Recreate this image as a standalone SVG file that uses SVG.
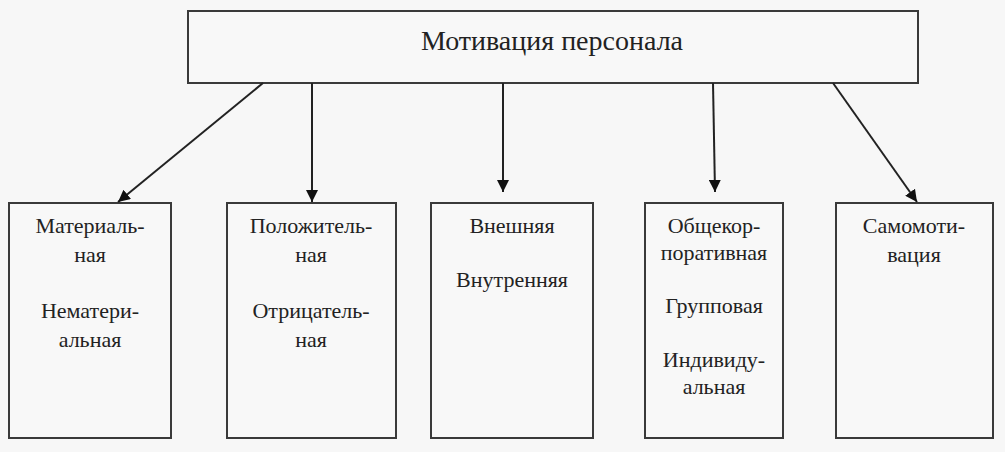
<svg xmlns="http://www.w3.org/2000/svg" width="1005" height="452" viewBox="0 0 1005 452">
<defs>
<style>
.box{fill:#f8f8f8;stroke:#3a3a3a;stroke-width:2}
.t{font-family:'Liberation Serif','Times New Roman','DejaVu Serif',serif;font-size:22px;fill:#222;text-anchor:middle}
.title{font-size:28px}
.c{stroke:#222;stroke-width:2;fill:none}
</style>
<marker id="ah" viewBox="0 0 10 10" refX="10" refY="5" markerWidth="6" markerHeight="6" markerUnits="strokeWidth" orient="auto">
<path d="M0,0 L10,5 L0,10 Z" fill="#111"/>
</marker>
</defs>
<rect width="1005" height="452" fill="#f7f7f7"/>
<g id="root">
<rect class="box" x="188" y="11" width="730" height="72"/>
<text class="t title" x="552" y="50">Мотивация персонала</text>
</g>
<g id="n1">
<rect class="box" x="9" y="203" width="162" height="235"/>
<text class="t" x="90" y="233">Материаль-</text>
<text class="t" x="90" y="262">ная</text>
<text class="t" x="90" y="318">Нематери-</text>
<text class="t" x="90" y="347">альная</text>
</g>
<g id="n2">
<rect class="box" x="227" y="203" width="169" height="235"/>
<text class="t" x="311" y="233">Положитель-</text>
<text class="t" x="311" y="262">ная</text>
<text class="t" x="311" y="318">Отрицатель-</text>
<text class="t" x="311" y="347">ная</text>
</g>
<g id="n3">
<rect class="box" x="431" y="203" width="162" height="235"/>
<text class="t" x="512" y="233">Внешняя</text>
<text class="t" x="512" y="287">Внутренняя</text>
</g>
<g id="n4">
<rect class="box" x="645" y="203" width="138" height="235"/>
<text class="t" x="714" y="233">Общекор-</text>
<text class="t" x="714" y="260">поративная</text>
<text class="t" x="714" y="313">Групповая</text>
<text class="t" x="714" y="367">Индивиду-</text>
<text class="t" x="714" y="394">альная</text>
</g>
<g id="n5">
<rect class="box" x="836" y="203" width="157" height="235"/>
<text class="t" x="914" y="233">Самомоти-</text>
<text class="t" x="914" y="262">вация</text>
</g>
<g id="connectors">
<line class="c" x1="263" y1="83" x2="118" y2="202" marker-end="url(#ah)"/>
<line class="c" x1="312" y1="83" x2="312" y2="202" marker-end="url(#ah)"/>
<line class="c" x1="503" y1="83" x2="503" y2="192" marker-end="url(#ah)"/>
<line class="c" x1="713" y1="83" x2="715" y2="192" marker-end="url(#ah)"/>
<line class="c" x1="833" y1="83" x2="917" y2="202" marker-end="url(#ah)"/>
</g>
</svg>
